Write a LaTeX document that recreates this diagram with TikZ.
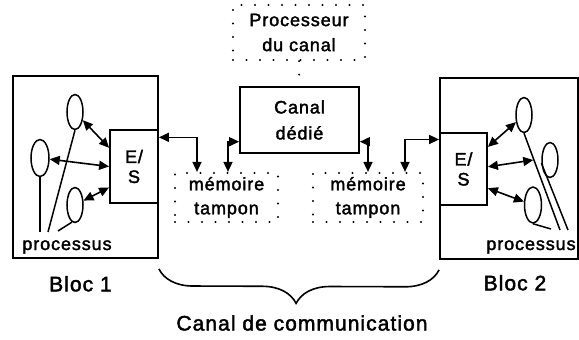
\documentclass[tikz,border=0pt]{standalone}
\usepackage{fontspec}
\setmainfont{Liberation Sans}[LetterSpace=5,FakeBold=2]
\usetikzlibrary{arrows.meta,positioning,shapes.geometric,calc,decorations.pathreplacing}

\begin{document}
\begin{tikzpicture}[
    x=1pt, y=-1pt,
    box/.style={rectangle, draw, line width=1.8pt, inner sep=0pt},
    dotbox/.style={rectangle, draw, line width=2.2pt, line cap=round, dash pattern=on 0pt off 13.5pt, inner sep=0pt},
    dotline/.style={line width=2.2pt, line cap=round, dash pattern=on 0pt off 13.5pt},
    procnode/.style={ellipse, draw, line width=1.5pt, minimum width=16pt, minimum height=35pt, inner sep=0pt},
    link/.style={{Triangle[length=10pt,width=9pt]}-{Triangle[length=10pt,width=9pt]}, line width=1.6pt},
    wire/.style={line width=1.5pt},
    txt/.style={font=\fontsize{18}{24}\selectfont, align=center, inner sep=0pt},
    lbl/.style={font=\fontsize{21}{25}\selectfont, inner sep=0pt}
  ]
  \useasboundingbox (0,0) rectangle (579,340);

  % Bloc 1
  \node[box, minimum width=145pt, minimum height=182pt] (bloc1) at (85.5,167) {};
  \node[box, txt, minimum width=48pt, minimum height=73pt, font=\fontsize{18}{20}\selectfont] (es1) at (134,166.5) {E/\\S};
  \node[procnode] (p1a) at (75,112) {};
  \node[procnode, minimum width=18pt, minimum height=37pt] (p1b) at (40,158) {};
  \node[procnode] (p1c) at (75,205) {};
  \node[txt, anchor=base] (plab1) at (67,250) {processus};

  % Bloc 2
  \node[box, minimum width=138pt, minimum height=181pt] (bloc2) at (509,168.5) {};
  \node[box, txt, minimum width=47pt, minimum height=72pt, font=\fontsize{18}{20}\selectfont] (es2) at (463.5,169) {E/\\S};
  \node[procnode] (p2a) at (524,115) {};
  \node[procnode] (p2b) at (550,160) {};
  \node[procnode, minimum width=17pt, minimum height=36pt] (p2c) at (533,205) {};
  \node[txt, anchor=base] (plab2) at (531,250) {processus};

  % Canal
  \node[dotbox, txt, minimum width=132pt, minimum height=55pt, font=\fontsize{18}{25}\selectfont] (cpu) at (299,32.5) {Processeur\\du canal};
  \node[box, txt, minimum width=119pt, minimum height=66pt, font=\fontsize{18}{26}\selectfont] (canal) at (299.5,120) {Canal\\dédié};
  \node[dotbox, txt, minimum width=103pt, minimum height=49pt] (mem1) at (226.5,197.5) {mémoire\\tampon};
  \node[dotbox, txt, minimum width=110pt, minimum height=49pt] (mem2) at (368,197.5) {mémoire\\tampon};

  % Ends of the process lines
  \coordinate (w1a) at (40,232);
  \coordinate (w1b) at (48,232);
  \coordinate (w1c) at (58,231);
  \coordinate (w2a) at (560,230);
  \coordinate (w2b) at (568,230);
  \coordinate (w2c) at (551,229);

  % Process lines
  \draw[wire] (p1b.south) -- (w1a);
  \draw[wire] (p1a.south) -- (w1b);
  \draw[wire] (w1c) -- (p1c.-100);
  \draw[wire] (p2a.south) -- (w2a);
  \draw[wire] (p2b.200) -- (w2b);
  \draw[wire] (p2c.south) -- (w2c);

  % Arrows
  \draw[link] (p1a) -- ($(es1.north west)!.25!(es1.south west)$);
  \draw[link] (p1b) -- ($(es1.north west)!.5!(es1.south west)$);
  \draw[link] (p1c) -- ($(es1.north west)!.78!(es1.south west)$);
  \draw[link] (p2a) -- ($(es2.north east)!.2!(es2.south east)$);
  \draw[link] ([xshift=-8pt]p2b.west) -- ($(es2.north east)!.47!(es2.south east)$);
  \draw[link] (p2c) -- ($(es2.north east)!.76!(es2.south east)$);
  \draw[link] ($(es1.north east)!.11!(es1.south east)$) -| ([xshift=-29.5pt]mem1.north);
  \draw[link] ($(canal.north west)!.82!(canal.south west)$) -| ([xshift=1.5pt]mem1.north);
  \draw[link] ($(canal.north east)!.82!(canal.south east)$) -| (mem2.north);
  \draw[link] ($(es2.north west)!.1!(es2.south west)$) -| ([xshift=37pt]mem2.north);
  \draw[dotline] (cpu) -- (canal);

  % Brace and labels
  \draw[line width=1.6pt, decorate, decoration={brace, mirror, amplitude=34pt, aspect=0.49}]
    ([yshift=-10pt]bloc1.south east) -- ([yshift=-10pt]bloc2.south west);
  \node[lbl, below=17pt of bloc1, xshift=-5pt] (b1) {Bloc 1};
  \node[lbl, below=15pt of bloc2, xshift=6pt] (b2) {Bloc 2};
  \node[lbl] (comm) at (302,323) {Canal de communication};
\end{tikzpicture}
\end{document}
